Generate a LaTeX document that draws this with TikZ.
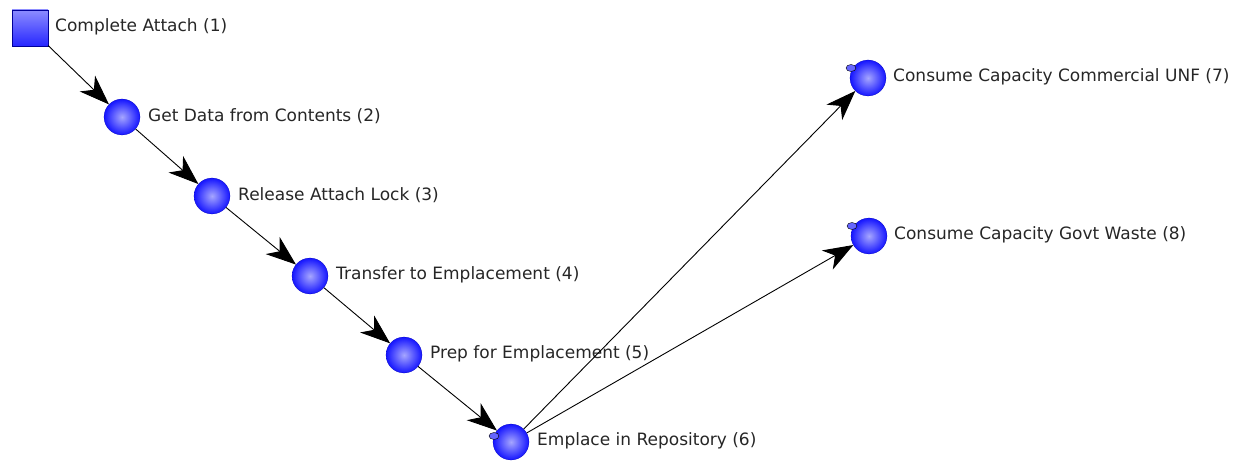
\documentclass[tikz,border=0pt]{standalone}
\usepackage{fontspec}
\setmainfont{DejaVu Sans}
\usetikzlibrary{positioning,arrows.meta,shapes.geometric}
\tikzset{
  state/.style={circle,minimum size=36pt,inner sep=0pt,shading=radial,inner color=blue!35!white,outer color=blue!92,draw=blue!70!black,very thin},
  start/.style={rectangle,minimum size=36pt,inner sep=0pt,top color=blue!45,bottom color=blue!85,draw=blue!60!black,very thin},
  lbl/.style={right,font=\fontsize{17pt}{19pt}\selectfont,text=black!85,inner sep=0pt},
  dotmark/.style={ellipse,draw=black,fill=blue!60,minimum width=10pt,minimum height=7pt,inner sep=0pt,thin},
  flow/.style={-{Stealth[length=30pt,width=22pt,inset=9pt]},line width=0.9pt}
}
\begin{document}
\begin{tikzpicture}[x=1pt,y=-1pt]
\useasboundingbox (0,0) rectangle (1244,462);
% nodes
\node[start] (n1) at (30,28) {};
\node[state] (n2) at (122,117) {};
\node[state] (n3) at (212,196) {};
\node[state] (n4) at (310,276) {};
\node[state] (n5) at (404,355) {};
\node[state] (n6) at (511,442) {};
\node[state] (n7) at (868,78) {};
\node[state] (n8) at (869,236) {};
% labels
\node[lbl] at (55,27) {Complete Attach (1)};
\node[lbl] at (148,116) {Get Data from Contents (2)};
\node[lbl] at (238,195) {Release Attach Lock (3)};
\node[lbl] at (336,275) {Transfer to Emplacement (4)};
\node[lbl] at (430,354) {Prep for Emplacement (5)};
\node[lbl] at (537,441) {Emplace in Repository (6)};
\node[lbl] at (893,77) {Consume Capacity Commercial UNF (7)};
\node[lbl] at (894,235) {Consume Capacity Govt Waste (8)};
% edges
\draw[flow] (n1) -- (n2);
\draw[flow] (n2) -- (n3);
\draw[flow] (n3) -- (n4);
\draw[flow] (n4) -- (n5);
\draw[flow] (n5) -- (n6);
\draw[flow] (n6) -- (n7);
\draw[flow] (n6) -- (n8);
% small marks
\node[dotmark] (m6) at (494,436) {};
\node[dotmark] (m7) at (851,68) {};
\node[dotmark] (m8) at (852,226) {};
\end{tikzpicture}
\end{document}
